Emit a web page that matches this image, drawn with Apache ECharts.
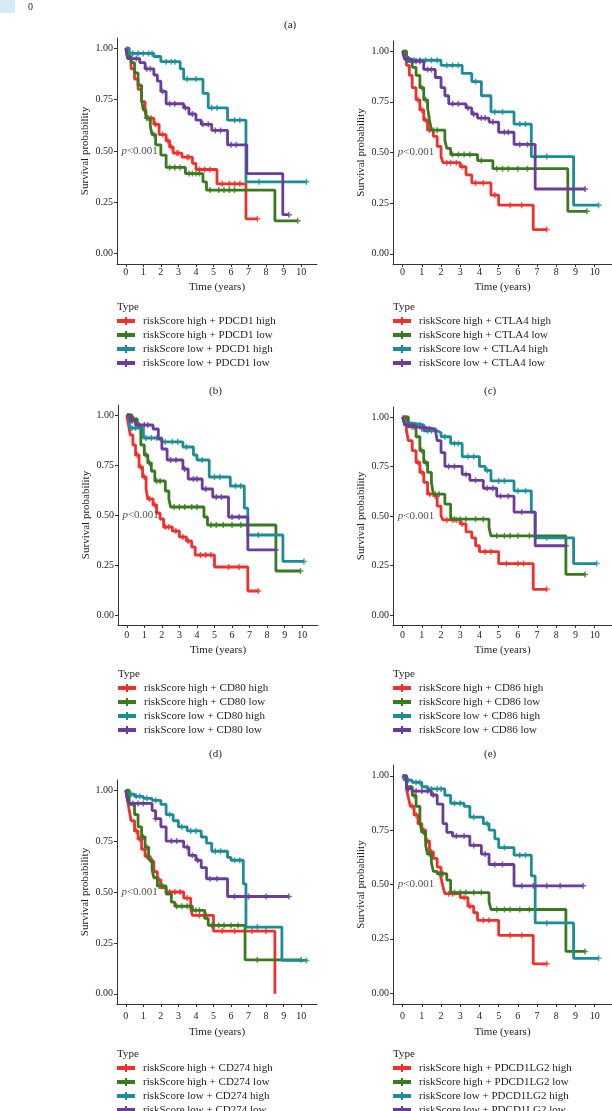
<!DOCTYPE html>
<html><head><meta charset="utf-8">
<script src="https://cdn.jsdelivr.net/npm/echarts@6/dist/echarts.min.js"></script>
<style>html,body{margin:0;padding:0;background:#fff}#c{width:612px;height:1111px}</style>
</head><body><div id="c"></div>
<script>
// ---------- ticks / labels ----------
const xTickValues = [0,1,2,3,4,5,6,7,8,9,10];
const yTickValues = [0,0.25,0.5,0.75,1];
const yTickLabels = ['0.00','0.25','0.50','0.75','1.00'];
const genes = ['PDCD1','CTLA4','CD80','CD86','CD274','PDCD1LG2'];
const panelLetters = ['(b)','(c)','(d)','(e)','(f)','(g)'];
const groupTemplates = ['riskScore high + GENE high','riskScore high + GENE low','riskScore low + GENE high','riskScore low + GENE low'];
const pValueText = 'p<0.001';
const groupColors = ['#F0302C','#3A7A1E','#1B8D96','#6A3D9A'];

// ---------- KM curves: [time(years), survival] ----------
const pdcd1HH = [[0,1],[0.15,0.95],[0.3,0.9],[0.5,0.85],[0.7,0.8],[0.9,0.74],[1.1,0.69],[1.2,0.66],[1.6,0.63],[1.9,0.58],[2.3,0.55],[2.5,0.52],[2.7,0.49],[3.2,0.47],[3.8,0.44],[4.0,0.41],[5.2,0.34],[6.85,0.17],[7.5,0.17]];
const pdcd1HL = [[0,1],[0.1,0.96],[0.3,0.93],[0.5,0.88],[0.7,0.82],[0.9,0.75],[1.0,0.7],[1.15,0.66],[1.4,0.62],[1.5,0.58],[1.7,0.53],[2.0,0.48],[2.3,0.42],[3.4,0.39],[4.4,0.35],[4.6,0.31],[8.5,0.16],[9.8,0.16]];
const pdcd1LH = [[0,1],[0.2,0.975],[1.6,0.96],[2.0,0.935],[3.1,0.9],[3.3,0.85],[4.4,0.78],[4.7,0.71],[5.8,0.65],[6.85,0.35],[10.3,0.35]];
const pdcd1LL = [[0,1],[0.1,0.95],[0.8,0.93],[1.1,0.9],[1.6,0.87],[1.8,0.84],[2.0,0.79],[2.3,0.73],[3.3,0.71],[3.6,0.68],[4.0,0.65],[4.3,0.63],[4.9,0.6],[5.8,0.53],[6.9,0.39],[8.95,0.19],[9.3,0.19]];

const ctla4HH = [[0,1],[0.2,0.93],[0.35,0.88],[0.5,0.82],[0.7,0.76],[0.9,0.71],[1.1,0.66],[1.3,0.61],[1.6,0.58],[1.8,0.53],[2.0,0.48],[2.1,0.45],[3.0,0.43],[3.3,0.39],[3.6,0.35],[4.6,0.29],[5.0,0.24],[6.8,0.12],[7.5,0.12]];
const ctla4HL = [[0,1],[0.2,0.95],[0.5,0.92],[0.7,0.88],[0.9,0.82],[1.1,0.76],[1.3,0.72],[1.4,0.66],[1.5,0.61],[2.2,0.56],[2.3,0.52],[2.5,0.49],[3.9,0.46],[4.7,0.42],[8.6,0.21],[9.6,0.21]];
const ctla4LH = [[0,1],[0.1,0.97],[0.3,0.955],[2.0,0.93],[3.1,0.89],[3.6,0.85],[4.1,0.78],[4.6,0.7],[5.8,0.64],[6.7,0.48],[8.9,0.24],[10.2,0.24]];
const ctla4LL = [[0,1],[0.1,0.96],[0.5,0.95],[1.1,0.91],[1.7,0.87],[2.0,0.82],[2.2,0.78],[2.4,0.74],[3.3,0.72],[3.6,0.69],[3.9,0.67],[4.5,0.65],[5.0,0.6],[5.8,0.54],[6.9,0.32],[9.5,0.32]];

const cd80HH = [[0,1],[0.1,0.95],[0.2,0.9],[0.35,0.85],[0.5,0.8],[0.7,0.74],[0.9,0.69],[1.1,0.63],[1.2,0.58],[1.5,0.55],[1.7,0.51],[1.9,0.48],[2.1,0.44],[2.6,0.42],[3.0,0.39],[3.4,0.37],[3.7,0.34],[3.9,0.3],[5.0,0.24],[6.9,0.12],[7.5,0.12]];
const cd80HL = [[0,1],[0.3,0.98],[0.6,0.95],[0.8,0.85],[1.0,0.8],[1.2,0.76],[1.4,0.72],[1.6,0.67],[2.2,0.62],[2.4,0.58],[2.5,0.54],[4.4,0.49],[4.6,0.45],[8.5,0.22],[9.9,0.22]];
const cd80LH = [[0,1],[0.15,0.935],[0.95,0.885],[2.0,0.866],[3.2,0.84],[3.8,0.8],[4.0,0.775],[4.7,0.69],[5.9,0.645],[6.7,0.534],[6.9,0.4],[8.9,0.268],[10.1,0.268]];
const cd80LL = [[0,1],[0.2,0.97],[0.5,0.95],[1.5,0.93],[1.8,0.88],[2.0,0.83],[2.3,0.775],[3.2,0.73],[3.5,0.68],[4.3,0.63],[4.9,0.59],[5.8,0.49],[6.9,0.326],[8.5,0.326]];

const cd86HH = [[0,1],[0.2,0.93],[0.3,0.88],[0.5,0.83],[0.7,0.77],[0.9,0.72],[1.1,0.67],[1.3,0.61],[1.6,0.6],[1.8,0.55],[2.0,0.5],[2.1,0.48],[3.0,0.46],[3.3,0.42],[3.6,0.39],[3.8,0.35],[4.0,0.32],[5.0,0.26],[6.8,0.13],[7.5,0.13]];
const cd86HL = [[0,1],[0.3,0.95],[0.7,0.9],[0.9,0.83],[1.1,0.77],[1.3,0.72],[1.5,0.67],[1.6,0.61],[2.2,0.56],[2.5,0.484],[4.5,0.44],[4.6,0.4],[8.5,0.205],[9.5,0.205]];
const cd86LH = [[0,1],[0.1,0.97],[0.4,0.96],[1.1,0.93],[1.8,0.92],[2.0,0.9],[2.5,0.866],[3.1,0.8],[4.0,0.75],[4.3,0.73],[4.6,0.677],[5.8,0.627],[6.7,0.52],[6.9,0.39],[8.9,0.26],[10.1,0.26]];
const cd86LL = [[0,1],[0.1,0.96],[0.5,0.95],[0.8,0.94],[1.7,0.93],[1.8,0.88],[2.0,0.82],[2.2,0.75],[3.1,0.71],[3.5,0.68],[4.2,0.64],[4.9,0.6],[5.8,0.52],[6.9,0.35],[8.5,0.35]];

const cd274HH = [[0,1],[0.1,0.95],[0.2,0.9],[0.3,0.85],[0.5,0.8],[0.7,0.76],[0.9,0.71],[1.1,0.675],[1.4,0.65],[1.6,0.6],[1.8,0.56],[2.0,0.52],[2.3,0.5],[3.3,0.47],[3.7,0.42],[3.8,0.385],[5.0,0.308],[8.5,0]];
const cd274HL = [[0,1],[0.2,0.93],[0.5,0.88],[0.7,0.82],[0.9,0.77],[1.1,0.72],[1.3,0.66],[1.5,0.61],[1.6,0.57],[1.8,0.53],[2.3,0.49],[2.6,0.45],[2.8,0.43],[3.8,0.41],[4.5,0.37],[4.7,0.336],[6.8,0.167],[10.0,0.167]];
const cd274LH = [[0,1],[0.1,0.98],[0.5,0.97],[1.0,0.96],[1.5,0.95],[2.0,0.93],[2.3,0.88],[2.7,0.85],[3.0,0.82],[3.5,0.8],[4.3,0.77],[4.6,0.74],[4.9,0.7],[5.8,0.67],[6.0,0.656],[6.7,0.54],[6.85,0.328],[8.9,0.164],[10.3,0.164]];
const cd274LL = [[0,1],[0.1,0.95],[0.2,0.935],[1.5,0.9],[1.7,0.86],[2.0,0.82],[2.3,0.75],[3.3,0.72],[3.6,0.68],[4.0,0.656],[4.3,0.62],[4.6,0.565],[5.8,0.478],[9.3,0.478]];

const pdl2HH = [[0,1],[0.2,0.94],[0.3,0.9],[0.4,0.86],[0.6,0.82],[0.8,0.78],[1.0,0.75],[1.2,0.7],[1.4,0.65],[1.6,0.62],[1.8,0.58],[2.0,0.53],[2.1,0.49],[2.2,0.458],[3.0,0.44],[3.4,0.4],[3.7,0.37],[3.9,0.335],[5.0,0.266],[6.8,0.135],[7.5,0.135]];
const pdl2HL = [[0,1],[0.2,0.95],[0.5,0.91],[0.7,0.86],[0.9,0.79],[1.0,0.74],[1.2,0.68],[1.3,0.64],[1.5,0.6],[1.6,0.56],[1.8,0.55],[2.3,0.52],[2.5,0.463],[4.5,0.42],[4.6,0.385],[8.5,0.192],[9.5,0.192]];
const pdl2LH = [[0,1],[0.1,0.98],[0.5,0.97],[1.0,0.95],[1.3,0.94],[2.2,0.91],[2.5,0.874],[3.2,0.86],[3.5,0.81],[4.2,0.78],[4.5,0.75],[4.8,0.71],[5.0,0.67],[5.8,0.635],[6.7,0.54],[6.9,0.323],[8.9,0.16],[10.2,0.16]];
const pdl2LL = [[0,1],[0.2,0.94],[0.5,0.93],[1.5,0.912],[1.8,0.87],[2.1,0.78],[2.3,0.74],[2.6,0.723],[3.5,0.68],[4.1,0.64],[4.5,0.592],[5.8,0.494],[9.4,0.494]];

// ---------- censoring times (years) ----------
const pdcd1Cens = [[1.3,1.45,1.7,2.1,2.4,2.6,2.9,3.0,3.5,3.6,4.2,4.5,4.8,5.5,5.9,6.2,6.5,7.5],[1.2,1.6,2.5,2.8,3.1,3.6,3.8,4.0,4.2,4.8,5.3,5.6,5.9,6.2,9.8],[0.4,0.7,1.0,1.3,1.5,2.3,2.6,2.8,3.5,4.0,4.9,5.2,6.2,6.5,7.6,10.3],[0.3,0.6,1.2,1.4,2.1,2.5,2.8,3.4,3.8,4.4,4.7,5.1,5.4,6.0,6.3,9.3]];
const ctla4Cens = [[0.8,1.0,1.2,1.4,2.3,2.5,2.8,3.1,3.8,4.2,4.8,5.6,6.2,7.5],[1.0,1.2,1.6,1.8,2.6,2.9,3.2,3.5,4.1,4.9,5.2,5.5,6.0,6.5,9.6],[0.4,0.6,0.9,1.2,1.5,1.8,2.3,2.6,2.9,3.8,4.8,5.2,6.1,6.4,7.5,10.2],[0.3,0.7,0.9,1.3,1.5,2.6,2.9,3.4,3.7,4.1,4.3,4.7,5.3,5.5,6.1,6.5,9.5]];
const cd80Cens = [[0.6,0.8,1.0,1.3,1.6,2.2,2.4,2.8,3.2,3.5,4.2,4.5,4.8,5.8,6.4,7.5],[0.4,1.1,1.3,1.7,1.9,2.7,3.0,3.3,3.7,4.0,4.8,5.1,5.5,6.0,6.5,9.9],[0.3,0.5,1.1,1.4,1.7,2.2,2.6,2.9,3.4,4.3,5.0,5.3,6.2,6.5,7.5,10.1],[0.3,0.7,1.0,1.2,2.5,2.8,3.3,3.8,4.0,4.5,5.1,5.4,6.0,6.4,8.5]];
const cd86Cens = [[0.8,1.0,1.4,1.7,2.3,2.6,2.8,3.1,4.3,4.6,5.4,6.0,6.3,7.5],[0.5,1.0,1.2,1.7,1.9,2.7,3.0,3.3,3.8,4.2,4.9,5.3,5.6,6.0,6.6,9.5],[0.2,0.6,0.9,1.3,1.5,2.2,2.7,2.9,3.4,3.7,4.4,5.0,5.3,6.0,6.4,7.5,10.1],[0.3,0.6,1.0,1.2,1.4,2.4,2.7,3.3,3.8,4.4,4.7,5.1,5.5,6.2,8.5]];
const cd274Cens = [[0.6,0.8,1.2,1.5,1.9,2.5,2.8,3.1,3.5,4.2,4.6,5.5,6.2,7.2,8.0],[1.0,1.2,1.9,2.1,2.9,3.2,3.5,4.0,4.2,4.9,5.3,5.6,6.0,6.4,7.5,10.0],[0.3,0.6,0.8,1.2,1.7,2.5,3.2,3.7,4.0,5.1,5.4,6.2,6.5,7.5,10.3],[0.4,0.7,1.0,1.7,2.6,2.9,3.5,3.8,4.1,4.8,5.2,6.2,7.0,8.0,9.3]];
const pdl2Cens = [[0.5,0.7,0.9,1.1,1.3,1.5,2.4,2.6,3.2,3.5,4.2,4.5,5.6,6.2,7.5],[0.6,1.1,1.4,1.9,2.1,2.7,3.0,3.3,3.7,4.1,4.9,5.3,5.6,6.1,6.6,9.5],[0.3,0.7,0.9,1.5,1.8,2.0,2.7,3.0,3.7,4.4,5.3,6.1,6.4,7.5,10.2],[0.3,0.7,1.0,1.3,1.6,2.8,3.2,3.7,4.3,4.8,5.2,6.2,6.8,7.5,8.2,9.4]];

const panelCurves = [
  [pdcd1HH,pdcd1HL,pdcd1LH,pdcd1LL],
  [ctla4HH,ctla4HL,ctla4LH,ctla4LL],
  [cd80HH,cd80HL,cd80LH,cd80LL],
  [cd86HH,cd86HL,cd86LH,cd86LL],
  [cd274HH,cd274HL,cd274LH,cd274LL],
  [pdl2HH,pdl2HL,pdl2LH,pdl2LL]
];
const panelCensors = [pdcd1Cens,ctla4Cens,cd80Cens,cd86Cens,cd274Cens,pdl2Cens];

// ---------- layout (pixels) ----------
const layout = [
  {left:117, top:38,  width:200, height:226, cap:209, capTop:386, lab:3, nameGap:18, leg:0},
  {left:393, top:41,  width:228, height:223, cap:484, capTop:386, lab:3, nameGap:18, leg:0},
  {left:118, top:405, width:200, height:220, cap:209, capTop:749, lab:5, nameGap:20, leg:6},
  {left:393, top:407, width:228, height:218, cap:484, capTop:749, lab:5, nameGap:20, leg:6},
  {left:117, top:780, width:200, height:224, cap:209, capTop:1200, lab:7, nameGap:23, leg:7},
  {left:393, top:765, width:228, height:239, cap:484, capTop:1200, lab:7, nameGap:23, leg:7}
];

const FONT = '"Liberation Serif","DejaVu Serif",serif';
const TXT = '#1e1e1e';
const plusPath = 'path://M-1,-4H1V-1H4V1H1V4H-1V1H-4V-1H-1Z';
const legendIcon = 'path://M0,2H8V0H10V2H18V6H10V8H8V6H0Z';

function survAt(curve, t){ let s = curve[0][1]; for (const p of curve){ if (p[0] <= t) s = p[1]; else break; } return s; }

const grid=[], xAxis=[], yAxis=[], series=[], legend=[], title=[];
layout.forEach((L, i) => {
  grid.push({left:L.left, top:L.top, width:L.width, height:L.height, containLabel:false});
  xAxis.push({type:'value', gridIndex:i, min:-0.5, max:10.9,
    axisLine:{onZero:false, lineStyle:{color:'#333', width:1}},
    axisTick:{show:true, customValues:xTickValues, length:3, lineStyle:{color:'#333'}},
    axisLabel:{customValues:xTickValues, margin:L.lab, fontFamily:FONT, fontSize:10, color:TXT},
    splitLine:{show:false},
    name:'Time (years)', nameLocation:'middle', nameGap:L.nameGap,
    nameTextStyle:{fontFamily:FONT, fontSize:11, color:TXT}});
  yAxis.push({type:'value', gridIndex:i, min:-0.05, max:1.05,
    axisLine:{show:true, onZero:false, lineStyle:{color:'#333', width:1}},
    axisTick:{show:true, customValues:yTickValues, length:3, lineStyle:{color:'#333'}},
    axisLabel:{customValues:yTickValues, margin:4, fontFamily:FONT, fontSize:10, color:TXT,
      formatter:v => yTickLabels[yTickValues.indexOf(v)] ?? v.toFixed(2)},
    splitLine:{show:false},
    name:'Survival probability', nameLocation:'middle', nameGap:26,
    nameTextStyle:{fontFamily:FONT, fontSize:11, color:TXT}});
  const names = groupTemplates.map(t => t.replace('GENE', genes[i]));
  panelCurves[i].forEach((curve, g) => {
    series.push({type:'line', name:names[g], xAxisIndex:i, yAxisIndex:i, data:curve,
      step:'end', showSymbol:false, symbol:'none',
      lineStyle:{color:groupColors[g], width:2.8}, itemStyle:{color:groupColors[g]}, z:2+g});
    series.push({type:'scatter', name:'cens'+i+'_'+g, xAxisIndex:i, yAxisIndex:i,
      data:panelCensors[i][g].map(t => [t, survAt(curve, t)]),
      symbol:plusPath, symbolSize:6, itemStyle:{color:groupColors[g]}, z:2+g});
  });
  series.push({type:'scatter', name:'p'+i, xAxisIndex:i, yAxisIndex:i, data:[[-0.25,0.5]],
    symbolSize:0, silent:true,
    label:{show:true, position:'right', distance:0,
      formatter:'{i|' + pValueText.charAt(0) + '}{n|' + pValueText.slice(1) + '}',
      rich:{i:{fontFamily:FONT, fontSize:11, fontStyle:'italic', color:TXT}, n:{fontFamily:FONT, fontSize:11, color:TXT}}}});
  const bottom = L.top + L.height;
  legend.push({data:names, orient:'horizontal', left:L.left, top:bottom+50+L.leg, width:180, padding:0,
    itemWidth:18, itemHeight:8, itemGap:0, icon:legendIcon, selectedMode:false,
    textStyle:{fontFamily:FONT, fontSize:11, color:TXT, lineHeight:14, padding:[0,0,0,3]}});
  title.push({text:'Type', left:L.left, top:bottom+38+L.leg, padding:0,
    textStyle:{fontFamily:FONT, fontSize:11, fontWeight:'normal', color:TXT}});
  title.push({text:panelLetters[i], left:L.cap, top:L.capTop, padding:0,
    textStyle:{fontFamily:FONT, fontSize:11, fontWeight:'normal', color:TXT}});
});
title.push({text:'(a)', left:284, top:20, padding:0, textStyle:{fontFamily:FONT, fontSize:11, fontWeight:'normal', color:TXT}});
title.push({text:'0', left:28, top:2, padding:0, textStyle:{fontFamily:FONT, fontSize:10, fontWeight:'normal', color:TXT}});

const chart = echarts.init(document.getElementById('c'), null, {renderer:'canvas'});
chart.setOption({
  animation:false, backgroundColor:'#fff',
  graphic:[{type:'rect', left:0, top:0, shape:{width:15, height:13}, style:{fill:'#D6EBF6'}}],
  title, grid, xAxis, yAxis, series, legend
});
</script></body></html>
